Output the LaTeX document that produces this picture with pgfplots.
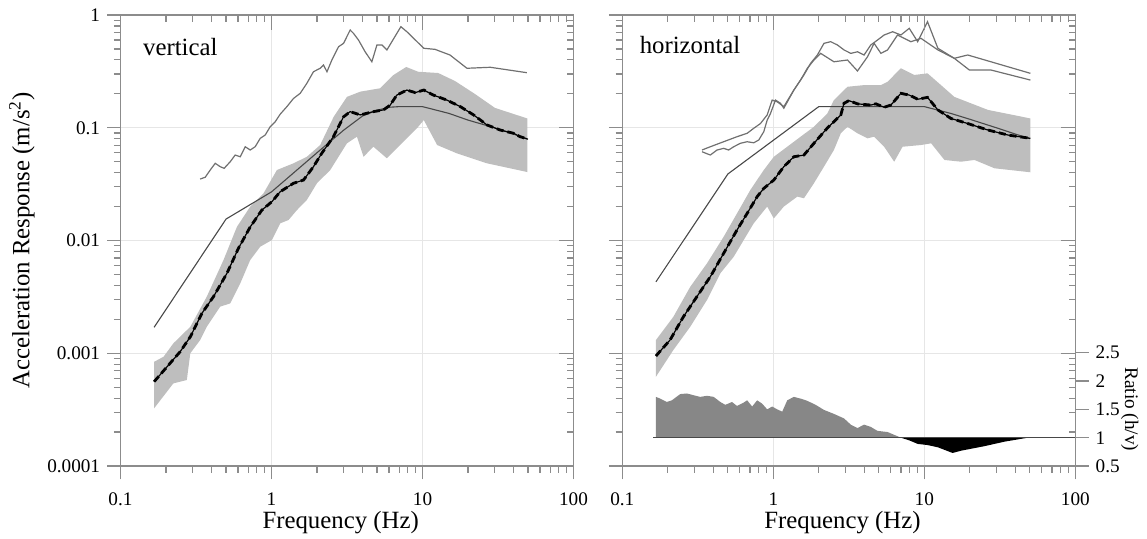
\documentclass[border=0pt]{standalone}
\usepackage{fontspec}
\setmainfont{Liberation Serif}
\usepackage{pgfplots}
\usepackage{pgfplotstable}
\pgfplotsset{compat=1.18}

\definecolor{axgray}{HTML}{8C8C8C}
\definecolor{gridgray}{HTML}{E6E6E6}
\definecolor{bandgray}{HTML}{BEBEBE}
\definecolor{modelgray}{HTML}{484848}
\definecolor{maxgray}{HTML}{707070}
\definecolor{ratiogray}{HTML}{878787}

% mean spectra
\pgfplotstableread{
f a
0.167 0.00056
0.213 0.000815
0.248 0.00103
0.290 0.0014
0.346 0.00226
0.413 0.00318
0.507 0.00512
0.604 0.00853
0.723 0.0132
0.863 0.0186
1.006 0.0221
1.142 0.0271
1.399 0.0322
1.63 0.0344
1.897 0.0452
2.15 0.0593
2.57 0.0833
3.00 0.125
3.32 0.139
3.87 0.130
4.73 0.139
5.52 0.144
6.11 0.159
6.76 0.195
7.88 0.216
8.95 0.205
10.2 0.216
11.8 0.195
14.5 0.176
17.8 0.154
21.8 0.130
26.7 0.106
32.7 0.0955
40.1 0.0893
44.4 0.0833
49.6 0.0795
}\meanV

\pgfplotstableread{
f a
0.167 0.000946
0.207 0.00131
0.254 0.00211
0.312 0.00318
0.383 0.00478
0.469 0.00770
0.575 0.0124
0.671 0.0174
0.782 0.0245
0.865 0.0290
1.008 0.0344
1.174 0.0452
1.368 0.0553
1.595 0.0573
1.858 0.0728
2.28 0.0995
2.80 0.130
2.94 0.165
3.17 0.174
3.61 0.163
4.42 0.159
4.78 0.163
5.42 0.152
6.01 0.159
7.00 0.202
7.95 0.195
9.04 0.179
10.5 0.186
12.3 0.144
15.0 0.121
19.4 0.109
26.4 0.0955
35.8 0.0862
50.4 0.0806
}\meanH

\begin{document}
\begin{tikzpicture}
\useasboundingbox (-60.25pt,-36pt) rectangle (513.25pt,233pt);

% ---------------- vertical ----------------
\begin{axis}[at={(0,0)}, anchor=south west,
  xmode=log, ymode=log, xmin=0.1, xmax=100, ymin=1e-4, ymax=1,
  width=226.5pt, height=225.5pt, scale only axis,
  axis line style={axgray, line width=0.65pt},
  major tick style={axgray, line width=0.6pt}, minor tick style={axgray, line width=0.6pt},
  major tick length=6.7pt, minor tick length=3.3pt,
  xtick={0.1,1,10,100}, ytick={0.0001,0.001,0.01,0.1,1},
  minor xtick={0.2,0.3,0.4,0.5,0.6,0.7,0.8,0.9,2,3,4,5,6,7,8,9,20,30,40,50,60,70,80,90},
  minor ytick={0.0002,0.0003,0.0004,0.0005,0.0006,0.0007,0.0008,0.0009,0.002,0.003,0.004,0.005,0.006,0.007,0.008,0.009,0.02,0.03,0.04,0.05,0.06,0.07,0.08,0.09,0.2,0.3,0.4,0.5,0.6,0.7,0.8,0.9},
  xtick pos=left, ytick pos=left, tick align=outside,
  grid=major, major grid style={gridgray, line width=0.5pt},
  xticklabels={0.1,1,10,100}, yticklabels={0.0001,0.001,0.01,0.1,1},
  xticklabel style={font=\fontsize{9.6}{11}\selectfont, yshift=-3pt},
  yticklabel style={font=\fontsize{9.6}{11}\selectfont},
  xlabel={Frequency (Hz)},
  xlabel style={font=\fontsize{12.4}{14}\selectfont, at={(axis description cs:0.486,0)}, anchor=base, yshift=-31pt},
  ylabel={Acceleration Response (m/s\textsuperscript{2})},
  ylabel style={font=\fontsize{12.4}{14}\selectfont, at={(axis description cs:-0.2175,0.5)}, anchor=center}]
\addplot[fill=bandgray, draw=none] coordinates {
 (0.167,0.00084)(0.193,0.000932)(0.224,0.001225)(0.290,0.001718)(0.373,0.00318)
 (0.481,0.00671)(0.590,0.0132)(0.723,0.0200)(0.885,0.0262)(1.086,0.0422)
 (1.399,0.0484)(1.715,0.0553)(2.10,0.0703)(2.58,0.125)(3.16,0.188)(3.87,0.209)
 (5.24,0.224)(6.43,0.294)(7.80,0.346)(9.37,0.314)(12.7,0.306)(16.4,0.260)
 (22.3,0.199)(30.2,0.150)(49.4,0.121)
 (49.4,0.0405)(26.7,0.0484)(16.9,0.0593)(12.5,0.0703)(10.2,0.117)(9.18,0.0989)
 (7.48,0.0752)(5.81,0.0536)(4.73,0.0679)(4.07,0.0553)(3.68,0.0833)(3.16,0.0728)
 (2.45,0.0422)(2.0,0.0322)(1.715,0.0229)(1.473,0.0186)(1.297,0.0152)(1.142,0.0142)
 (1.006,0.0101)(0.842,0.00881)(0.723,0.00671)(0.621,0.00417)(0.533,0.00277)
 (0.457,0.00259)(0.373,0.00172)(0.337,0.00131)(0.290,0.0010)(0.275,0.000579)
 (0.224,0.000541)(0.167,0.000325)
};
\addplot[modelgray, line width=0.55pt] coordinates {
 (0.167,0.0017)(0.5,0.0155)(1.0,0.027)(2.0,0.060)(3.0,0.095)(4.0,0.127)(5.0,0.143)
 (6.0,0.152)(7.0,0.154)(10,0.154)(15,0.134)(20,0.117)(30,0.100)(40,0.088)(50,0.079)
};
\addplot[maxgray, line width=0.6pt] coordinates {
 (0.337,0.0351)(0.364,0.0364)(0.393,0.0422)(0.424,0.0484)(0.457,0.0452)(0.486,0.0437)
 (0.533,0.0500)(0.575,0.0573)(0.621,0.0553)(0.670,0.0679)(0.723,0.0635)(0.780,0.0679)
 (0.842,0.0806)(0.908,0.0862)(0.980,0.102)(1.058,0.113)(1.142,0.132)(1.265,0.154)
 (1.399,0.182)(1.549,0.202)(1.715,0.248)(1.897,0.314)(2.10,0.337)(2.21,0.360)
 (2.33,0.314)(2.51,0.399)(2.78,0.523)(3.00,0.561)(3.32,0.736)(3.49,0.688)(3.77,0.600)
 (4.17,0.472)(4.62,0.385)(4.99,0.542)(5.39,0.542)(5.81,0.490)(7.19,0.788)(7.88,0.711)
 (10.2,0.507)(12.1,0.496)(15.2,0.442)(19.7,0.337)(28.1,0.344)(49.1,0.308)
};
\addplot[black, line width=0.6pt] table[x=f, y=a] {\meanV};
\addplot[black, line width=1.4pt, dash pattern=on 3.5pt off 2pt] table[x=f, y=a] {\meanV};
\node[anchor=base west, font=\fontsize{12.4}{14}\selectfont, xshift=7.8pt, yshift=-20pt]
  at (rel axis cs:0,1) {vertical};
\end{axis}
\begin{axis}[at={(0,0)}, anchor=south west,
  xmode=log, ymode=log, xmin=0.1, xmax=100, ymin=1e-4, ymax=1,
  width=226.5pt, height=225.5pt, scale only axis,
  axis line style={axgray, line width=0.65pt},
  major tick style={axgray, line width=0.6pt}, minor tick style={axgray, line width=0.6pt},
  major tick length=7.3pt, minor tick length=3.3pt,
  xtick={0.1,1,10,100}, ytick={0.0001,0.001,0.01,0.1,1},
  minor xtick={0.2,0.3,0.4,0.5,0.6,0.7,0.8,0.9,2,3,4,5,6,7,8,9,20,30,40,50,60,70,80,90},
  minor ytick={0.0002,0.0003,0.0004,0.0005,0.0006,0.0007,0.0008,0.0009,0.002,0.003,0.004,0.005,0.006,0.007,0.008,0.009,0.02,0.03,0.04,0.05,0.06,0.07,0.08,0.09,0.2,0.3,0.4,0.5,0.6,0.7,0.8,0.9},
  xtick pos=right, ytick pos=right, tick align=inside,
  xticklabels={}, yticklabels={}]
\end{axis}

% ---------------- horizontal ----------------
\begin{axis}[at={(250.9pt,0)}, anchor=south west,
  xmode=log, ymode=log, xmin=0.1, xmax=100, ymin=1e-4, ymax=1,
  width=226.5pt, height=225.5pt, scale only axis,
  axis line style={axgray, line width=0.65pt},
  major tick style={axgray, line width=0.6pt}, minor tick style={axgray, line width=0.6pt},
  major tick length=6.7pt, minor tick length=3.3pt,
  xtick={0.1,1,10,100}, ytick={0.0001,0.001,0.01,0.1,1},
  minor xtick={0.2,0.3,0.4,0.5,0.6,0.7,0.8,0.9,2,3,4,5,6,7,8,9,20,30,40,50,60,70,80,90},
  minor ytick={0.0002,0.0003,0.0004,0.0005,0.0006,0.0007,0.0008,0.0009,0.002,0.003,0.004,0.005,0.006,0.007,0.008,0.009,0.02,0.03,0.04,0.05,0.06,0.07,0.08,0.09,0.2,0.3,0.4,0.5,0.6,0.7,0.8,0.9},
  xtick pos=left, ytick pos=left, tick align=outside,
  grid=major, major grid style={gridgray, line width=0.5pt},
  xticklabels={0.1,1,10,100}, yticklabels={},
  xticklabel style={font=\fontsize{9.6}{11}\selectfont, yshift=-3pt},
  xlabel={Frequency (Hz)},
  xlabel style={font=\fontsize{12.4}{14}\selectfont, at={(axis description cs:0.486,0)}, anchor=base, yshift=-31pt}]
\addplot[fill=bandgray, draw=none] coordinates {
 (0.167,0.00131)(0.218,0.00211)(0.282,0.00389)(0.364,0.00628)(0.469,0.0108)
 (0.575,0.0174)(0.705,0.0281)(0.865,0.0422)(1.008,0.0553)(1.237,0.0679)(1.516,0.0833)
 (1.858,0.102)(2.28,0.134)(2.52,0.176)(3.10,0.231)(3.99,0.239)(5.16,0.239)(5.71,0.256)
 (7.00,0.337)(8.58,0.294)(10.5,0.304)(12.9,0.239)(15.8,0.188)(26.4,0.144)(50.4,0.121)
 (50.4,0.0403)(29.2,0.0437)(21.5,0.0518)(17.5,0.0500)(13.6,0.0518)(11.1,0.0728)
 (9.51,0.0703)(7.18,0.0679)(6.32,0.0500)(5.42,0.0679)(4.65,0.0833)(4.21,0.0806)
 (3.61,0.0893)(3.10,0.102)(2.80,0.0893)(2.52,0.0635)(2.166,0.0452)(1.858,0.0322)
 (1.595,0.0237)(1.442,0.0245)(1.174,0.0200)(1.008,0.0157)(0.911,0.0200)(0.742,0.0142)
 (0.637,0.0101)(0.547,0.00718)(0.446,0.00512)(0.364,0.00297)(0.282,0.00172)
 (0.218,0.00107)(0.167,0.000619)
};
\addplot[modelgray, line width=0.55pt] coordinates {
 (0.167,0.0043)(0.5,0.0389)(2.0,0.154)(10,0.154)(15,0.134)(20,0.119)(30,0.100)
 (40,0.088)(50,0.080)
};
\addplot[maxgray, line width=0.6pt] coordinates {
 (0.337,0.0635)(0.383,0.0679)(0.469,0.0752)(0.575,0.0833)(0.671,0.0893)(0.742,0.0989)
 (0.822,0.109)(0.911,0.130)(0.983,0.176)(1.061,0.170)(1.174,0.154)(1.368,0.216)
 (1.595,0.294)(1.767,0.373)(1.958,0.442)(2.166,0.561)(2.40,0.580)(2.66,0.542)
 (2.94,0.490)(3.26,0.457)(3.61,0.472)(3.99,0.442)(4.42,0.542)(4.90,0.600)(5.42,0.665)
 (6.17,0.711)(7.00,0.665)(7.95,0.762)(9.04,0.580)(10.5,0.872)(12.3,0.507)(15.8,0.413)
 (19.9,0.325)(27.7,0.325)(50.4,0.265)
};
\addplot[maxgray, line width=0.6pt] coordinates {
 (0.337,0.0613)(0.383,0.0573)(0.424,0.0635)(0.469,0.0657)(0.506,0.0635)(0.547,0.0679)
 (0.605,0.0728)(0.671,0.0752)(0.742,0.0736)(0.801,0.0779)(0.865,0.0923)(0.911,0.117)
 (0.958,0.134)(1.034,0.176)(1.116,0.165)(1.174,0.149)(1.368,0.216)(1.516,0.265)
 (1.680,0.337)(1.858,0.399)(2.059,0.457)(2.52,0.385)(3.10,0.399)(3.61,0.319)
 (4.21,0.427)(4.65,0.561)(5.16,0.457)(5.71,0.490)(6.65,0.665)(8.16,0.580)(9.51,0.621)
 (12.3,0.490)(15.8,0.413)(19.4,0.442)(50.4,0.304)
};
\addplot[black, line width=0.6pt] table[x=f, y=a] {\meanH};
\addplot[black, line width=1.4pt, dash pattern=on 3.5pt off 2pt] table[x=f, y=a] {\meanH};
\node[anchor=base west, font=\fontsize{12.4}{14}\selectfont, xshift=5.2pt, yshift=-19pt]
  at (rel axis cs:0,1) {horizontal};
\end{axis}
\begin{axis}[at={(250.9pt,0)}, anchor=south west,
  xmode=log, ymode=log, xmin=0.1, xmax=100, ymin=1e-4, ymax=1,
  width=226.5pt, height=225.5pt, scale only axis,
  axis line style={axgray, line width=0.65pt},
  major tick style={axgray, line width=0.6pt}, minor tick style={axgray, line width=0.6pt},
  major tick length=7.3pt, minor tick length=3.3pt,
  xtick={0.1,1,10,100}, ytick={0.0001,0.001,0.01,0.1,1},
  minor xtick={0.2,0.3,0.4,0.5,0.6,0.7,0.8,0.9,2,3,4,5,6,7,8,9,20,30,40,50,60,70,80,90},
  minor ytick={0.0002,0.0003,0.0004,0.0005,0.0006,0.0007,0.0008,0.0009,0.002,0.003,0.004,0.005,0.006,0.007,0.008,0.009,0.02,0.03,0.04,0.05,0.06,0.07,0.08,0.09,0.2,0.3,0.4,0.5,0.6,0.7,0.8,0.9},
  xtick pos=right, ytick pos=right, tick align=inside,
  xticklabels={}, yticklabels={}]
\end{axis}

% ---------------- ratio h/v ----------------
\begin{axis}[at={(250.9pt,0)}, anchor=south west,
  width=226.5pt, height=56.65pt, scale only axis,
  xmode=log, xmin=0.1, xmax=100, ymin=0.5, ymax=2.5,
  axis x line=none, axis y line*=right,
  axis line style={axgray, line width=0.65pt},
  major tick style={axgray, line width=0.6pt},
  tick align=outside, major tick length=6.7pt,
  ytick={0.5,1,1.5,2,2.5}, yticklabels={0.5,1,1.5,2,2.5},
  yticklabel style={font=\fontsize{9.6}{11}\selectfont},
  ylabel={Ratio (h/v)},
  ylabel style={font=\fontsize{9.6}{11}\selectfont, rotate=180,
    at={(axis description cs:1.12,0.5)}, anchor=center}]
\addplot[fill=ratiogray, draw=none] coordinates {
 (0.167,1)(0.167,1.72)(0.178,1.69)(0.197,1.63)(0.213,1.66)(0.242,1.77)(0.268,1.78)
 (0.296,1.75)(0.328,1.72)(0.364,1.74)(0.403,1.72)(0.446,1.63)(0.481,1.58)(0.533,1.63)
 (0.575,1.56)(0.637,1.62)(0.671,1.66)(0.724,1.55)(0.782,1.66)(0.844,1.60)(0.911,1.50)
 (0.983,1.55)(1.061,1.50)(1.146,1.46)(1.237,1.66)(1.368,1.72)(1.516,1.69)(1.680,1.65)
 (1.907,1.58)(2.166,1.49)(2.52,1.42)(2.94,1.34)(3.26,1.23)(3.61,1.17)(3.99,1.23)
 (4.42,1.19)(4.90,1.12)(5.71,1.10)(6.32,1.05)(7.00,1.0)
};
\addplot[fill=black, draw=none] coordinates {
 (7.00,1)(8.0,0.95)(9.04,0.89)(10.5,0.87)(12.3,0.83)(15.4,0.73)(17.5,0.77)
 (25.0,0.85)(34.0,0.93)(48.6,1.0)
};
\addplot[modelgray, line width=0.55pt] coordinates {(0.16,1)(100,1)};
\end{axis}
\end{tikzpicture}
\end{document}
